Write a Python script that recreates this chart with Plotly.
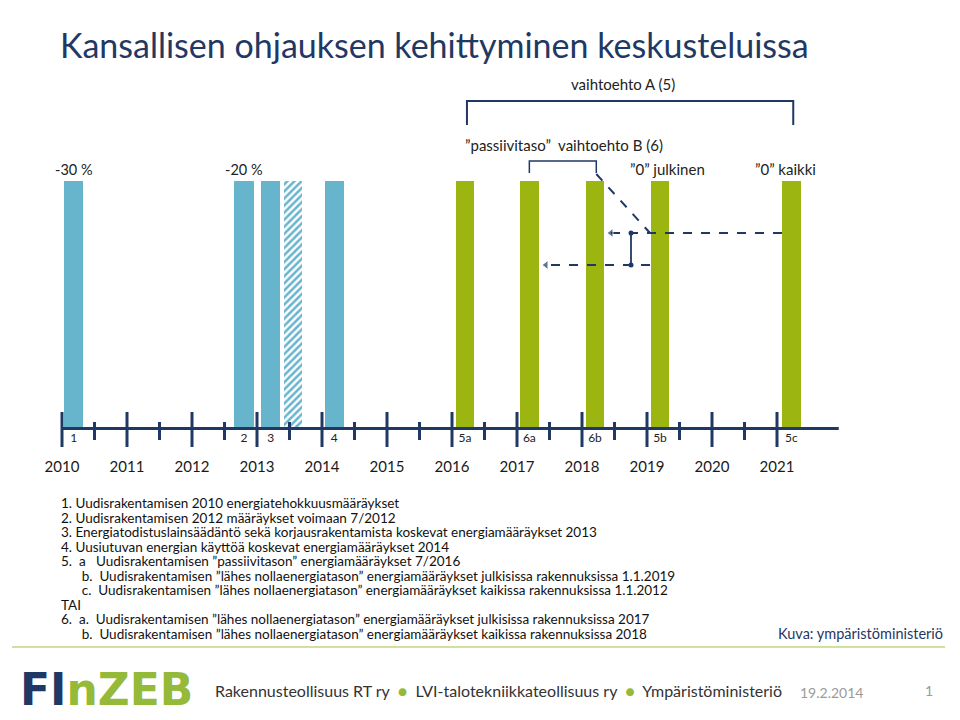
import plotly.graph_objects as go

# ---------------- data ----------------
title = "Kansallisen ohjauksen kehittyminen keskusteluissa"
years = list(range(2010, 2022))
bar_labels = ["1", "2", "3", "", "4", "5a", "6a", "6b", "5b", "5c"]
bar_pos = [2010.18, 2012.80, 2013.21, 2013.55, 2014.19, 2016.20, 2017.19, 2018.20, 2019.20, 2021.22]
bar_height = [1, 1, 1, 1, 1, 1, 1, 1, 1, 1]
bar_width = [0.30, 0.30, 0.30, 0.27, 0.30, 0.29, 0.29, 0.28, 0.28, 0.29]
bar_kind = ["blue", "blue", "blue", "hatch", "blue", "green", "green", "green", "green", "green"]
top_notes = {"1": "-30 %", "2": "-20 %"}

# (number, sub-item, text)
footnotes = [
    ("1.", "", "Uudisrakentamisen 2010 energiatehokkuusmääräykset"),
    ("2.", "", "Uudisrakentamisen 2012 määräykset voimaan 7/2012"),
    ("3.", "", "Energiatodistuslainsäädäntö sekä korjausrakentamista koskevat energiamääräykset 2013"),
    ("4.", "", "Uusiutuvan energian käyttöä koskevat energiamääräykset 2014"),
    ("5.", "a", "Uudisrakentamisen ”passiivitason” energiamääräykset 7/2016"),
    ("", "b.", "Uudisrakentamisen ”lähes nollaenergiatason” energiamääräykset julkisissa rakennuksissa 1.1.2019"),
    ("", "c.", "Uudisrakentamisen ”lähes nollaenergiatason” energiamääräykset kaikissa rakennuksissa 1.1.2012"),
    ("TAI", "", ""),
    ("6.", "a.", "Uudisrakentamisen ”lähes nollaenergiatason” energiamääräykset julkisissa rakennuksissa 2017"),
    ("", "b.", "Uudisrakentamisen ”lähes nollaenergiatason” energiamääräykset kaikissa rakennuksissa 2018"),
]

# ---------------- styles ----------------
NAVY = "#1F3864"
BLUE = "#67B4CD"
GREEN = "#9DB511"
LOGOGREEN = "#95BA3A"
LINEGREEN = "#A6C23C"
FONT = "Lato"
OFF = 8                      # page body margin
W, H = 960 - OFF, 720 - OFF  # figure size

# reference-pixel helpers for decorations (1 year = 65 px, bar unit = 246 px)
X0PX, PX_PER_YEAR = 62, 65
Y0PX, PX_PER_UNIT = 427, 246


def X(px):
    return 2010 + (px - X0PX) / PX_PER_YEAR


def Y(py):
    return (Y0PX - py) / PX_PER_UNIT


def PX(px):
    return (px - OFF) / W


def PY(py):
    return 1 - (py - OFF) / H


fig = go.Figure()

solid = [i for i, k in enumerate(bar_kind) if k != "hatch"]
hatch = [i for i, k in enumerate(bar_kind) if k == "hatch"]
fig.add_trace(go.Bar(
    x=[bar_pos[i] for i in solid], y=[bar_height[i] for i in solid], base=0,
    width=[bar_width[i] for i in solid],
    marker=dict(color=[BLUE if bar_kind[i] == "blue" else GREEN for i in solid], line=dict(width=0)),
    hoverinfo="skip",
))
fig.add_trace(go.Bar(
    x=[bar_pos[i] for i in hatch], y=[bar_height[i] for i in hatch], base=0,
    width=[bar_width[i] for i in hatch],
    marker=dict(color="white", line=dict(width=0),
                pattern=dict(shape="/", fgcolor=BLUE, bgcolor="white", fgopacity=1,
                             size=5, solidity=0.5, fillmode="replace")),
    hoverinfo="skip",
))

# labels under the timeline
fig.add_trace(go.Scatter(
    x=bar_pos, y=[Y(439)] * len(bar_pos), mode="text", text=bar_labels,
    textfont=dict(family=FONT, size=12, color="#222"), hoverinfo="skip"))
# year labels
fig.add_trace(go.Scatter(
    x=years, y=[Y(468)] * len(years), mode="text", text=[str(y) for y in years],
    textfont=dict(family=FONT, size=15, color="#1a1a1a"), hoverinfo="skip"))

shapes = []
# main timeline
shapes.append(dict(type="line", x0=years[0], x1=years[-1] + 0.95, y0=Y(428.5), y1=Y(428.5),
                   line=dict(color=NAVY, width=3)))
for yr in years:
    shapes.append(dict(type="line", x0=yr, x1=yr, y0=Y(412), y1=Y(447), line=dict(color=NAVY, width=3)))
for yr in years[:-1]:
    shapes.append(dict(type="line", x0=yr + 0.5, x1=yr + 0.5, y0=Y(422), y1=Y(440),
                       line=dict(color=NAVY, width=3)))

pos = dict(zip(bar_labels, bar_pos))
# bracket A (5a..5c)
shapes.append(dict(type="path",
                   path=f"M {pos['5a']+0.03},{Y(125)} L {pos['5a']+0.03},{Y(101)} L {pos['5c']+0.03},{Y(101)} L {pos['5c']+0.03},{Y(125)}",
                   line=dict(color=NAVY, width=2)))
# bracket B (6a..6b)
shapes.append(dict(type="path",
                   path=f"M {pos['6a']},{Y(173)} L {pos['6a']},{Y(161)} L {pos['6b']+0.02},{Y(161)} L {pos['6b']+0.02},{Y(173)}",
                   line=dict(color=NAVY, width=1.5)))
# vertical connector
shapes.append(dict(type="line", x0=X(631), x1=X(631), y0=Y(233), y1=Y(265), line=dict(color=NAVY, width=1.8)))
# green separator line
shapes.append(dict(type="line", xref="paper", yref="paper", x0=PX(12), x1=PX(945), y0=PY(647), y1=PY(647),
                   line=dict(color=LINEGREEN, width=1.2)))

# dashed lines / arrows
fig.add_trace(go.Scatter(x=[pos['6b'] + 0.02, X(650)], y=[Y(174), Y(233)], mode="lines",
                         line=dict(color=NAVY, width=2, dash="dash"), hoverinfo="skip"))
for xs, ys in [([X(782), X(611)], Y(233)), ([X(650), X(546)], Y(265))]:
    fig.add_trace(go.Scatter(x=xs, y=[ys, ys], mode="lines+markers",
                             line=dict(color=NAVY, width=2, dash="dash"),
                             marker=dict(symbol=["circle", "triangle-left"], size=[0, 8], color=NAVY),
                             hoverinfo="skip"))
fig.add_trace(go.Scatter(x=[X(631), X(631)], y=[Y(233), Y(265)], mode="markers",
                         marker=dict(size=5, color=NAVY), hoverinfo="skip"))

ann = []


def txt(x, y, s, size=14, color="#222", xanchor="center", xref="x", yref="y", family=FONT, **kw):
    ann.append(dict(x=x, y=y, xref=xref, yref=yref, text=s, showarrow=False, xanchor=xanchor,
                    yanchor="middle", font=dict(family=family, size=size, color=color), **kw))


for k, s in top_notes.items():
    txt(pos[k], Y(169), s, size=14.5)
txt(X(623), Y(84), "vaihtoehto A (5)", size=15)
txt(X(564), Y(145), "”passiivitaso”  vaihtoehto B (6)", size=15)
txt(X(667), Y(169), "”0” julkinen", size=15)
txt(X(785), Y(169), "”0” kaikki", size=15)

# title
txt(PX(58), PY(44), title, size=34, color=NAVY, xanchor="left", xref="paper", yref="paper")

# footnotes: one multi-line text block (line pitch 14.5 px, glyphs 13.5 px)
NB = "\u00a0"
gap_after = {"a": 3, "a.": 2, "b.": 2, "c.": 2}
lines = []
for num, sub, body in footnotes:
    if num and not sub:
        lines.append(f"{num} {body}" if body else num)
    elif num and sub:
        lines.append(f"{num}{NB*2}{sub}{NB*gap_after[sub]}{body}")
    else:
        lines.append(f"{NB*6}{sub}{NB*gap_after[sub]}{body}")
block = "<br>".join(f"<span style='font-size:13.5px'>{ln}</span>" for ln in lines)
ann.append(dict(x=PX(60), y=PY((503 + 633.5) / 2), xref="paper", yref="paper", text=block,
                showarrow=False, xanchor="left", yanchor="middle", align="left", borderpad=0,
                font=dict(family=FONT, size=14.5 / 1.3, color="#111")))

txt(PX(945), PY(633), "Kuva: ympäristöministeriö", size=14.5, color=NAVY, xanchor="right",
    xref="paper", yref="paper")

# footer
txt(PX(19), PY(689), f"<b><span style='color:{NAVY}'>FI</span><span style='color:{LOGOGREEN}'>nZEB</span></b>",
    size=44, xanchor="left", xref="paper", yref="paper", family="DejaVu Sans", borderpad=0)
txt(PX(213), PY(690),
    f"Rakennusteollisuus RT ry  <span style='color:{LOGOGREEN}'>●</span>  LVI-talotekniikkateollisuus ry  "
    f"<span style='color:{LOGOGREEN}'>●</span>  Ympäristöministeriö",
    size=16, color="#333", xanchor="left", xref="paper", yref="paper")
txt(PX(831), PY(692), "19.2.2014", size=14, color="#9A9A9A", xref="paper", yref="paper")
txt(PX(929), PY(690), "1", size=14, color="#9A9A9A", xref="paper", yref="paper")

fig.update_layout(
    width=W, height=H, autosize=False,
    margin=dict(l=0, r=0, t=0, b=0),
    paper_bgcolor="white", plot_bgcolor="white",
    showlegend=False, bargap=0, barmode="overlay",
    xaxis=dict(range=[X(OFF), X(960)], visible=False, fixedrange=True),
    yaxis=dict(range=[Y(720), Y(OFF)], visible=False, fixedrange=True),
    shapes=shapes, annotations=ann,
)

fig.write_html("out.html")
